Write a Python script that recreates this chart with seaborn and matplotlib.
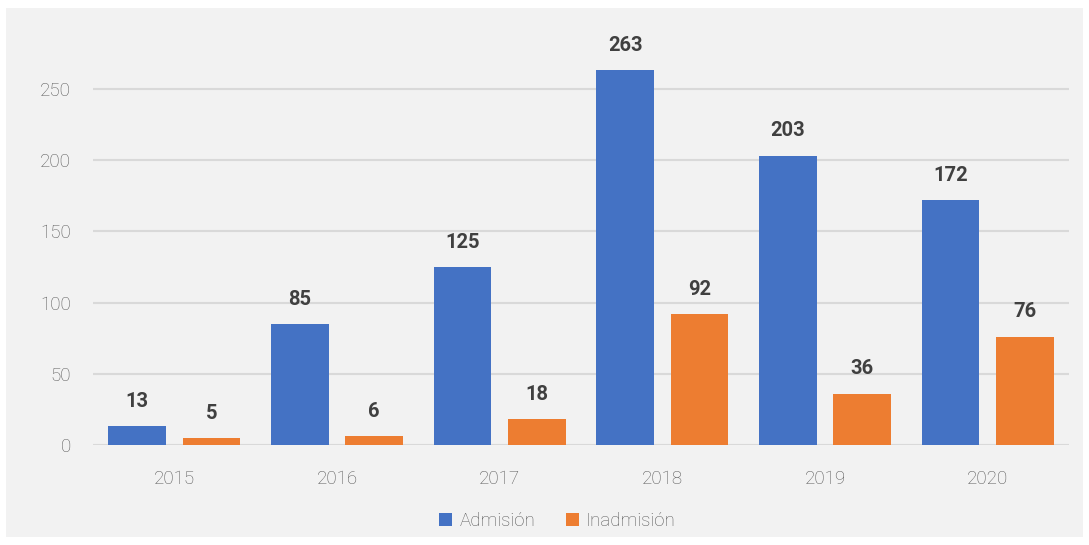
import pandas as pd
import numpy as np
import matplotlib.pyplot as plt
import seaborn as sns
from matplotlib.patches import Rectangle

# Data
years = ["2015", "2016", "2017", "2018", "2019", "2020"]
admision = [13, 85, 125, 263, 203, 172]
inadmision = [5, 6, 18, 92, 36, 76]
series_names = ["Admisión", "Inadmisión"]
colors = ["#4472C4", "#ED7D31"]

df = pd.DataFrame({
    "year": years * 2,
    "value": admision + inadmision,
    "serie": [series_names[0]] * len(years) + [series_names[1]] * len(years),
})

sns.set_style("white")
plt.rcParams["font.family"] = ["Roboto", "DejaVu Sans"]

fig = plt.figure(figsize=(10.89, 5.45), dpi=100)
fig.patch.set_facecolor("white")
# light gray panel behind the chart
fig.patches.append(Rectangle((6 / 1089, 8 / 545), 1077 / 1089, 529 / 545,
                             transform=fig.transFigure, facecolor="#F2F2F2",
                             edgecolor="none", zorder=-10))

ax = fig.add_axes([93 / 1089, 1 - 445 / 545, 976 / 1089, (445 - 46) / 545])
ax.set_facecolor("none")
ax.set_zorder(5)

sns.barplot(data=df, x="year", y="value", hue="serie", palette=colors,
            width=0.914, gap=0.22, saturation=1, linewidth=0, ax=ax, legend=True)

ax.set_ylim(0, 280)
ax.set_xlim(-0.5, 5.5)
ax.set_yticks(range(0, 251, 50))
ax.yaxis.grid(True, color="#D9D9D9", linewidth=1.5)
ax.set_axisbelow(True)
for s in ax.spines.values():
    s.set_visible(False)
ax.tick_params(axis="both", length=0, labelsize=13.5, labelcolor="#595959")
ax.tick_params(axis="y", pad=16)
ax.tick_params(axis="x", pad=18)
for lab in ax.get_xticklabels() + ax.get_yticklabels():
    lab.set_fontweight("light")
ax.set_xlabel("")
ax.set_ylabel("")

# value labels
for cont in ax.containers:
    for bar in cont:
        h = bar.get_height()
        ax.annotate(f"{int(h)}", (bar.get_x() + bar.get_width() / 2, h),
                    xytext=(0, 11), textcoords="offset points",
                    ha="center", va="bottom", fontsize=14.5, fontweight="bold",
                    color="#404040", annotation_clip=False)

leg = ax.legend(loc="upper center", bbox_to_anchor=(0.476, -0.125), ncol=2, frameon=False,
                fontsize=13.5, handlelength=0.7, handleheight=0.7, handletextpad=0.4,
                columnspacing=1.6, labelcolor="#595959")
for t in leg.get_texts():
    t.set_fontweight("light")

fig.savefig("out.png", dpi=100)
